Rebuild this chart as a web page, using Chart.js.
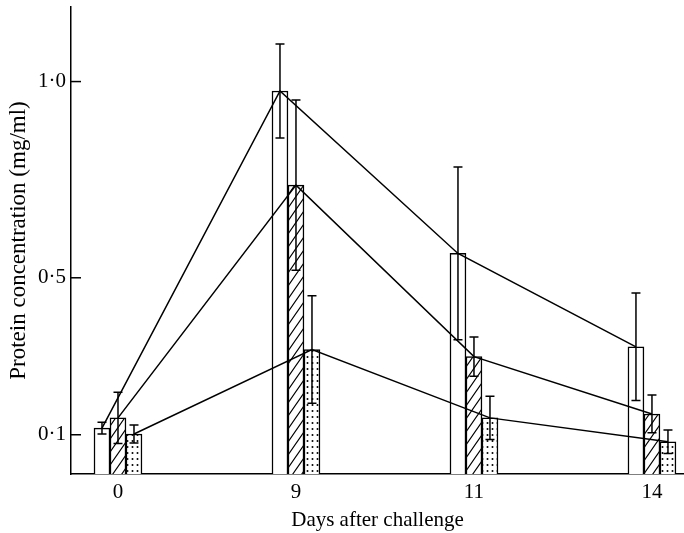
<!DOCTYPE html>
<html>
<head>
<meta charset="utf-8">
<script src="https://cdn.jsdelivr.net/npm/chart.js@4.4.1/dist/chart.umd.min.js"></script>
<style>
  html, body { margin: 0; padding: 0; background: #fff; }
  #wrap { width: 684px; height: 533px; }
</style>
</head>
<body>
<div id="wrap"><canvas id="c" width="684" height="533"></canvas></div>
<script>
// ---- data ----
const days = ['0', '9', '11', '14'];
const openVals    = [0.117, 0.976, 0.562, 0.324];
const hatchedVals = [0.143, 0.736, 0.299, 0.153];
const dottedVals  = [0.102, 0.317, 0.143, 0.082];
const openErr     = [0.015, 0.12, 0.22, 0.137];
const hatchedErr  = [0.065, 0.217, 0.05, 0.048];
const dottedErr   = [0.023, 0.137, 0.055, 0.03];
const yTicks = [0.1, 0.5, 1.0];

const FONT = 'Liberation Serif';
const BAR_W = 16;
const X_MIN = -0.264, X_MAX = 3.18;
const PX_PER_UNIT = 178;
const off = BAR_W / PX_PER_UNIT;

function makeHatch() {
  const c = document.createElement('canvas');
  const w = 9, h = 13;
  c.width = w; c.height = h;
  const g = c.getContext('2d');
  g.fillStyle = '#fff'; g.fillRect(0, 0, w, h);
  g.strokeStyle = '#000'; g.lineWidth = 1.2;
  g.beginPath();
  g.moveTo(-w, 2 * h); g.lineTo(2 * w, -h);
  g.moveTo(-2 * w, 2 * h); g.lineTo(w, -h);
  g.moveTo(0, 2 * h); g.lineTo(3 * w, -h);
  g.stroke();
  return g.createPattern(c, 'repeat');
}
function makeDots() {
  const c = document.createElement('canvas');
  const w = 5, h = 6;
  c.width = w; c.height = h;
  const g = c.getContext('2d');
  g.fillStyle = '#fff'; g.fillRect(0, 0, w, h);
  g.fillStyle = '#000';
  g.beginPath(); g.arc(2.5, 3, 1.0, 0, Math.PI * 2); g.fill();
  return g.createPattern(c, 'repeat');
}

const toBar = vals => vals.map((v, i) => ({ x: i, y: v }));
const toLine = (vals, dx) => vals.map((v, i) => ({ x: i + dx, y: v }));

const errs = [openErr, hatchedErr, dottedErr];

const errorBarPlugin = {
  id: 'errorBars',
  afterDatasetsDraw(chart) {
    const ctx = chart.ctx;
    const ys = chart.scales.y;
    ctx.save();
    ctx.strokeStyle = '#000';
    ctx.lineWidth = 1.5;
    for (let d = 0; d < 3; d++) {
      const meta = chart.getDatasetMeta(d);
      const vals = chart.data.datasets[d].data;
      meta.data.forEach((el, i) => {
        const v = vals[i].y, e = errs[d][i];
        const x = el.x;
        const yt = ys.getPixelForValue(v + e);
        const yb = ys.getPixelForValue(Math.max(v - e, 0));
        ctx.beginPath();
        ctx.moveTo(x, yt); ctx.lineTo(x, yb);
        ctx.moveTo(x - 4.5, yt); ctx.lineTo(x + 4.5, yt);
        ctx.moveTo(x - 4.5, yb); ctx.lineTo(x + 4.5, yb);
        ctx.stroke();
      });
    }
    // inner y tick marks
    ys.ticks.forEach(t => {
      const y = ys.getPixelForValue(t.value);
      ctx.beginPath();
      ctx.moveTo(chart.chartArea.left, y);
      ctx.lineTo(chart.chartArea.left + 10, y);
      ctx.stroke();
    });
    ctx.restore();
  }
};

new Chart(document.getElementById('c'), {
  type: 'bar',
  data: {
    datasets: [
      { type: 'bar', data: toBar(openVals), backgroundColor: '#fff', borderColor: '#000', borderWidth: 1.5, barThickness: BAR_W, order: 2 },
      { type: 'bar', data: toBar(hatchedVals), backgroundColor: makeHatch(), borderColor: '#000', borderWidth: 1.5, barThickness: BAR_W, order: 2 },
      { type: 'bar', data: toBar(dottedVals), backgroundColor: makeDots(), borderColor: '#000', borderWidth: 1.5, barThickness: BAR_W, order: 2 },
      { type: 'line', data: toLine(openVals, -off), borderColor: '#000', borderWidth: 1.5, pointRadius: 0, tension: 0, fill: false, order: 1 },
      { type: 'line', data: toLine(hatchedVals, 0), borderColor: '#000', borderWidth: 1.5, pointRadius: 0, tension: 0, fill: false, order: 1 },
      { type: 'line', data: toLine(dottedVals, off), borderColor: '#000', borderWidth: 1.5, pointRadius: 0, tension: 0, fill: false, order: 1 }
    ]
  },
  options: {
    responsive: false,
    animation: false,
    layout: { padding: { top: 0, right: 0, left: 0, bottom: 0 } },
    plugins: { legend: { display: false }, tooltip: { enabled: false } },
    scales: {
      x: {
        type: 'linear',
        min: X_MIN, max: X_MAX,
        offset: false,
        grid: { display: false, drawTicks: false },
        border: { display: true, color: '#000', width: 1.5 },
        afterBuildTicks: s => { s.ticks = days.map((d, i) => ({ value: i })); },
        afterFit: s => { s.height = 59; s.paddingLeft = 0; s.paddingRight = 0; },
        ticks: {
          autoSkip: false, maxRotation: 0, color: '#000', padding: 6,
          font: { family: FONT, size: 21 },
          callback: v => days[v]
        },
        title: {
          display: true, text: 'Days after challenge', color: '#000',
          font: { family: FONT, size: 21 }, padding: { top: 0, bottom: 0 }
        }
      },
      y: {
        type: 'linear',
        min: 0, max: 1.19,
        grid: { display: false, drawTicks: false },
        border: { display: true, color: '#000', width: 1.5 },
        afterBuildTicks: s => { s.ticks = yTicks.map(v => ({ value: v })); },
        afterFit: s => { s.width = 71; s.paddingTop = 7; s.paddingBottom = 0; },
        ticks: {
          color: '#000', padding: 5,
          font: { family: FONT, size: 21 },
          callback: v => v.toFixed(1).replace('.', '\u00B7')
        },
        title: {
          display: true, text: 'Protein concentration (mg/ml)', color: '#000',
          font: { family: FONT, size: 23 }, padding: { top: 5, bottom: 0 }
        }
      }
    }
  },
  plugins: [errorBarPlugin]
});
</script>
</body>
</html>
